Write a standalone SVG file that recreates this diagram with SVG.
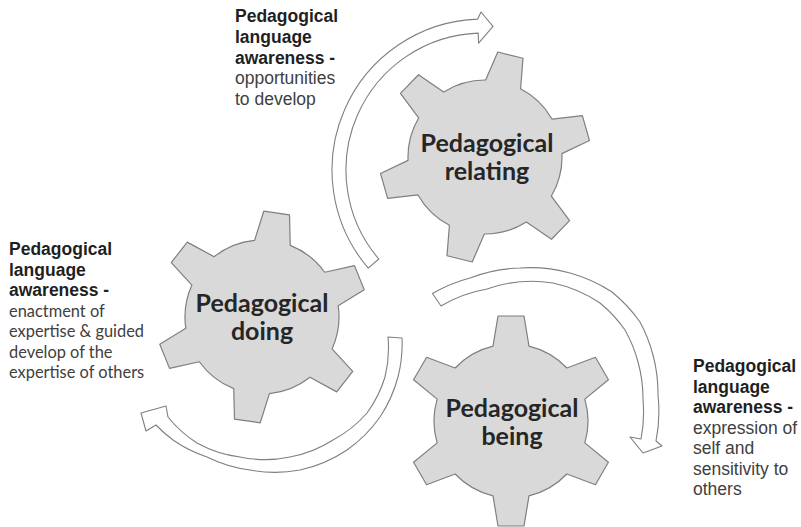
<svg xmlns="http://www.w3.org/2000/svg" xmlns:xlink="http://www.w3.org/1999/xlink" width="801" height="527" viewBox="0 0 801 527">
<style>
.gear{fill:#d9d9d9;stroke:#7f7f7f;stroke-width:1.2;stroke-linejoin:round}
.arrow{fill:#ffffff;stroke:#7f7f7f;stroke-width:1.1;stroke-linejoin:round}
.gt{font-family:Lato,"Open Sans",sans-serif;font-weight:bold;font-size:25px;fill:#262626;text-anchor:middle}
.lb{font-family:"Liberation Sans",Arial,sans-serif;font-weight:bold;font-size:17.5px;fill:#1f1f1f}
.lr{font-family:"Liberation Sans",Arial,sans-serif;font-size:17.5px;fill:#404040}
.lc{font-family:Lato,"Open Sans",sans-serif;font-size:16.4px;fill:#404040}
</style>
<defs>
<path id="gearShape" d="M -18,-74.87 L -13,-105 L 13,-105 L 18,-74.87 A 77 77 0 0 1 55.84,-53.03 L 84.43,-63.76 L 97.43,-41.24 L 73.84,-21.85 A 77 77 0 0 1 73.84,21.85 L 97.43,41.24 L 84.43,63.76 L 55.84,53.03 A 77 77 0 0 1 18,74.87 L 13,105 L -13,105 L -18,74.87 A 77 77 0 0 1 -55.84,53.03 L -84.43,63.76 L -97.43,41.24 L -73.84,21.85 A 77 77 0 0 1 -73.84,-21.85 L -97.43,-41.24 L -84.43,-63.76 L -55.84,-53.03 A 77 77 0 0 1 -18,-74.87 Z"/>
</defs>
<rect width="801" height="527" fill="#ffffff"/>
<g id="connectors">
<path class="arrow" d="M 368.2,268.1 A 151 151 0 0 1 477.7,19.1 L 481,12 L 493,26.3 L 478.6,43.1 L 478.2,33.1 A 137 137 0 0 0 378.8,259.0 Z"/>
<path class="arrow" d="M 432.5,293.5 A 150 150 0 0 1 470,278 A 150 150 0 0 1 520,268 A 150 150 0 0 1 570,273 A 150 150 0 0 1 612,292 A 150 150 0 0 1 640,322 A 150 150 0 0 1 653,355 A 150 150 0 0 1 658,395 A 150 150 0 0 1 656,441 L 662,446 L 643,453 L 630,437 L 641,439 A 135 135 0 0 0 643,400 A 135 135 0 0 0 638,362 A 135 135 0 0 0 625,330 A 135 135 0 0 0 600,303 A 135 135 0 0 0 553,283 A 135 135 0 0 0 487,289 A 135 135 0 0 0 441,306 Z"/>
<path class="arrow" d="M 402,338 A 135 135 0 0 1 398,377 A 135 135 0 0 1 380,417 A 135 135 0 0 1 347,450 A 135 135 0 0 1 300,470 A 135 135 0 0 1 250,470 A 135 135 0 0 1 207,457 A 135 135 0 0 1 173,440 A 135 135 0 0 1 156,425 L 146,431 L 141,413 L 166,406 L 168,417 A 120 120 0 0 0 197,443 A 120 120 0 0 0 240,457 A 120 120 0 0 0 290,457 A 120 120 0 0 0 333,440 A 120 120 0 0 0 367,413 A 120 120 0 0 0 385,377 A 120 120 0 0 0 388,337 Z"/>
</g>
<g id="gear-relating">
<use xlink:href="#gearShape" href="#gearShape" class="gear" transform="translate(485,157) rotate(14)"/>
<text class="gt" x="487" y="152">Pedagogical</text>
<text class="gt" x="487" y="180">relating</text>
</g>
<g id="gear-doing">
<use xlink:href="#gearShape" href="#gearShape" class="gear" transform="translate(262,317) rotate(8)"/>
<text class="gt" x="262" y="312">Pedagogical</text>
<text class="gt" x="262" y="340">doing</text>
</g>
<g id="gear-being">
<use xlink:href="#gearShape" href="#gearShape" class="gear" transform="translate(511,421)"/>
<text class="gt" x="512" y="417">Pedagogical</text>
<text class="gt" x="512" y="445">being</text>
</g>
<g id="label-top">
<text class="lb" x="235" y="22">Pedagogical</text>
<text class="lb" x="235" y="42.8">language</text>
<text class="lb" x="235" y="63.6">awareness -</text>
<text class="lr" x="235" y="84.4">opportunities</text>
<text class="lr" x="235" y="105.2">to develop</text>
</g>
<g id="label-left">
<text class="lb" x="9" y="255">Pedagogical</text>
<text class="lb" x="9" y="275.5">language</text>
<text class="lb" x="9" y="296">awareness -</text>
<text class="lc" x="9" y="316.5">enactment of</text>
<text class="lc" x="9" y="337">expertise &amp; guided</text>
<text class="lc" x="9" y="357.5">develop of the</text>
<text class="lc" x="9" y="378">expertise of others</text>
</g>
<g id="label-right">
<text class="lb" x="693" y="372">Pedagogical</text>
<text class="lb" x="693" y="392.5">language</text>
<text class="lb" x="693" y="413">awareness -</text>
<text class="lr" x="693" y="433.5">expression of</text>
<text class="lr" x="693" y="454">self and</text>
<text class="lr" x="693" y="474.5">sensitivity to</text>
<text class="lr" x="693" y="495">others</text>
</g>
</svg>
